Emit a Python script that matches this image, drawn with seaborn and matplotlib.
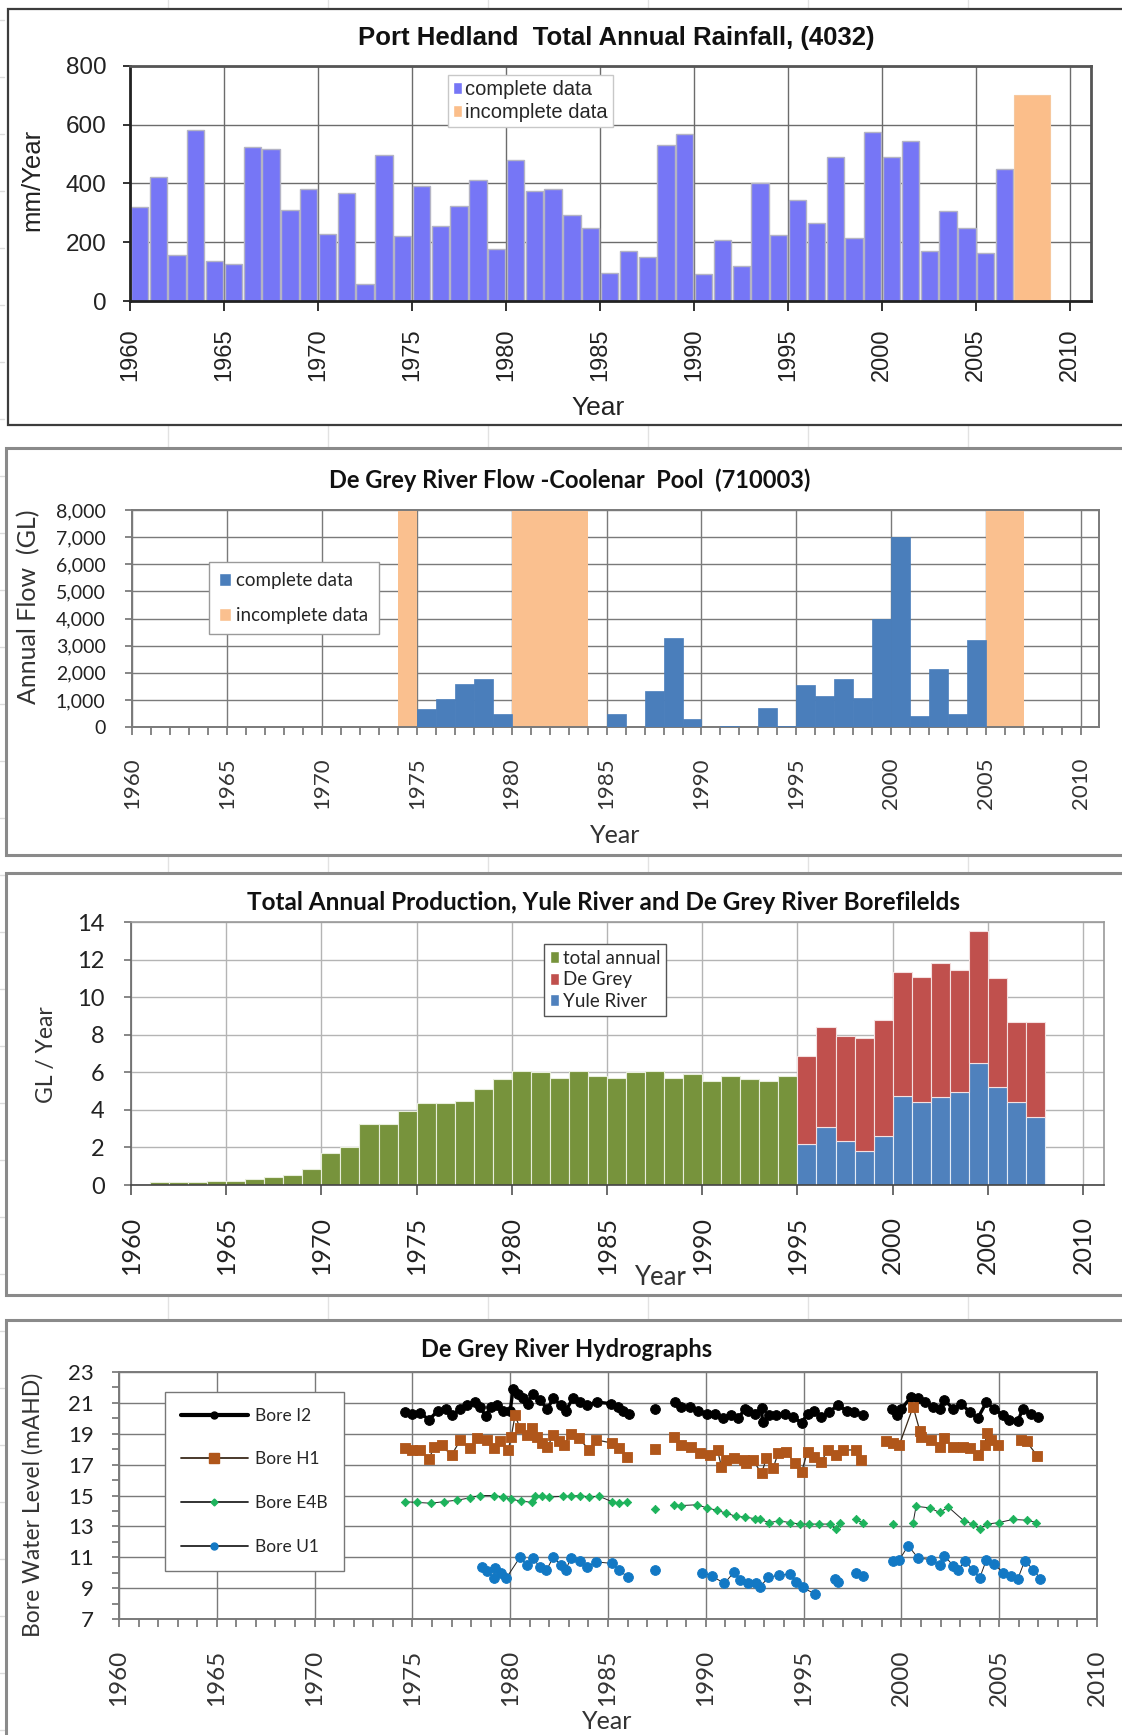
import matplotlib
matplotlib.use("Agg")
import numpy as np
import pandas as pd
import matplotlib.pyplot as plt
import seaborn as sns
from matplotlib.patches import Rectangle, Patch
from matplotlib.lines import Line2D

# ---------- DATA ----------
# Port Hedland rainfall (mm/year), complete years 1960-2006
rain_years = list(range(1960, 2007))
rain_mm = [321, 423, 156, 581, 136, 125, 525, 519, 309, 381,
           227, 366, 58, 496, 221, 392, 255, 323, 411, 178,
           479, 374, 381, 292, 249, 97, 169, 150, 532, 568,
           91, 209, 118, 403, 226, 344, 266, 489, 215, 574,
           489, 546, 169, 306, 249, 163, 449]
rain_inc_year = [2007]
rain_inc_mm = [700]
rain_inc_span = [2]

# De Grey River flow (GL), complete years
flow_years = [1975, 1976, 1977, 1978, 1979, 1985, 1987, 1988, 1989, 1991, 1993,
              1994, 1995, 1996, 1997, 1998, 1999, 2000, 2001, 2002, 2003, 2004]
flow_gl = [675, 1030, 1580, 1770, 490, 470, 1330, 3290, 300, 40, 715,
           30, 1565, 1145, 1760, 1085, 4000, 6990, 405, 2120, 470, 3225]
flow_inc_start = [1974, 1980, 2005]
flow_inc_span = [1, 4, 2]
flow_inc_top = [8000, 8000, 8000]

# Production (GL/year)
total_years = list(range(1961, 1995))
total_gl = [0.15, 0.15, 0.15, 0.2, 0.21, 0.34, 0.44, 0.53, 0.85, 1.72,
            2.0, 3.23, 3.23, 3.96, 4.39, 4.39, 4.48, 5.1, 5.63, 6.07,
            5.99, 5.72, 6.07, 5.81, 5.72, 5.99, 6.08, 5.72, 5.9, 5.55,
            5.81, 5.65, 5.55, 5.81]
split_years = list(range(1995, 2008))
yule_gl = [2.16, 3.09, 2.34, 1.79, 2.61, 4.76, 4.40, 4.67, 4.97, 6.49, 5.24, 4.40, 3.60]
degrey_gl = [4.73, 5.32, 5.58, 6.05, 6.16, 6.60, 6.69, 7.14, 6.48, 7.03, 5.78, 4.28, 5.08]

# Bore water levels (year, mAHD)
bore_i2 = [(1974.6, 20.42), (1975.0, 20.3), (1975.4, 20.35), (1975.85, 19.9), (1976.3, 20.5),
           (1976.7, 20.6), (1977.0, 20.2), (1977.45, 20.6), (1977.8, 20.85), (1978.2, 21.05),
           (1978.45, 20.75), (1978.75, 20.15), (1979.0, 20.75), (1979.3, 20.85), (1979.65, 20.5),
           (1980.0, 20.5), (1980.15, 21.9), (1980.4, 21.6), (1980.65, 21.3), (1980.9, 20.95),
           (1981.15, 21.6), (1981.5, 21.2), (1981.9, 20.6), (1982.2, 21.3), (1982.6, 20.85),
           (1982.85, 20.5), (1983.2, 21.3), (1983.55, 21.05), (1983.95, 20.85), (1984.45, 21.05),
           (1985.15, 20.95), (1985.5, 20.75), (1985.75, 20.5), (1986.05, 20.3), (1987.4, 20.6),
           (1988.4, 21.05), (1988.75, 20.75), (1989.2, 20.75), (1989.6, 20.5), (1990.05, 20.3),
           (1990.45, 20.3), (1990.9, 20.0), (1991.3, 20.2), (1991.65, 20.0), (1992.0, 20.6),
           (1992.15, 20.5), (1992.5, 20.3), (1992.85, 20.65), (1992.9, 19.75), (1993.25, 20.2),
           (1993.6, 20.2), (1994.05, 20.3), (1994.45, 20.1), (1994.9, 19.7), (1995.2, 20.3),
           (1995.55, 20.5), (1995.9, 20.1), (1996.3, 20.4), (1996.75, 20.85), (1997.2, 20.5),
           (1997.6, 20.4), (1998.05, 20.2), (1999.5, 20.6), (1999.75, 20.2), (2000.0, 20.6),
           (2000.5, 21.4), (2000.85, 21.3), (2001.2, 21.05), (2001.6, 20.75), (2001.95, 20.6),
           (2002.2, 21.2), (2002.65, 20.6), (2003.05, 20.95), (2003.5, 20.4), (2003.9, 20.0),
           (2004.35, 21.05), (2004.75, 20.6), (2005.2, 20.2), (2005.5, 19.9), (2005.95, 19.8),
           (2006.2, 20.6), (2006.65, 20.3), (2007.0, 20.1)]
bore_h1 = [(1974.6, 18.05), (1975.0, 17.95), (1975.4, 17.95), (1975.85, 17.35), (1976.1, 18.15),
           (1976.5, 18.25), (1977.0, 17.6), (1977.45, 18.6), (1977.95, 18.05), (1978.3, 18.7),
           (1978.8, 18.6), (1979.15, 18.05), (1979.5, 18.5), (1979.9, 17.95), (1980.05, 18.8),
           (1980.25, 20.2), (1980.5, 19.35), (1980.85, 18.9), (1981.1, 19.35), (1981.35, 18.8),
           (1981.65, 18.4), (1981.9, 18.15), (1982.2, 18.9), (1982.5, 18.5), (1982.75, 18.25),
           (1983.1, 19.0), (1983.5, 18.7), (1984.05, 17.95), (1984.4, 18.6), (1985.2, 18.4),
           (1985.55, 18.05), (1985.95, 17.5), (1987.4, 18.0), (1988.35, 18.8), (1988.75, 18.25),
           (1989.25, 18.15), (1989.7, 17.75), (1990.2, 17.6), (1990.6, 17.95), (1990.8, 16.85),
           (1991.05, 17.3), (1991.45, 17.4), (1991.95, 17.3), (1992.05, 17.1), (1992.4, 17.3),
           (1992.85, 16.45), (1993.1, 17.4), (1993.45, 16.8), (1993.7, 17.75), (1994.1, 17.85),
           (1994.55, 17.1), (1994.9, 16.55), (1995.2, 17.85), (1995.55, 17.5), (1995.9, 17.2),
           (1996.25, 17.95), (1996.65, 17.6), (1997.0, 17.95), (1997.7, 17.95), (1997.95, 17.3),
           (1999.2, 18.5), (1999.55, 18.4), (1999.9, 18.3), (2000.6, 20.75), (2000.95, 19.15),
           (2001.0, 18.8), (2001.5, 18.6), (2001.95, 18.15), (2002.2, 18.7), (2002.65, 18.15),
           (2003.15, 18.15), (2003.5, 18.05), (2003.9, 17.65), (2004.25, 18.3), (2004.4, 19.05),
           (2004.6, 18.6), (2004.95, 18.3), (2006.1, 18.6), (2006.4, 18.5), (2006.95, 17.55)]
bore_e4b = [(1974.6, 14.6), (1975.25, 14.55), (1975.95, 14.5), (1976.6, 14.6), (1977.3, 14.7),
            (1977.95, 14.85), (1978.45, 15.0), (1979.15, 15.0), (1979.65, 14.9), (1980.05, 14.75),
            (1980.55, 14.65), (1981.1, 14.55), (1981.25, 15.0), (1981.65, 14.95), (1982.0, 14.9),
            (1982.7, 14.95), (1983.1, 14.95), (1983.55, 15.0), (1984.05, 14.9), (1984.55, 14.95),
            (1985.2, 14.6), (1985.55, 14.5), (1985.95, 14.55), (1987.4, 14.15), (1988.35, 14.4),
            (1988.75, 14.35), (1989.55, 14.4), (1990.05, 14.2), (1990.55, 14.05), (1991.05, 13.85),
            (1991.55, 13.65), (1992.0, 13.6), (1992.5, 13.5), (1992.75, 13.45), (1993.25, 13.25),
            (1993.75, 13.35), (1994.3, 13.25), (1994.8, 13.15), (1995.3, 13.15), (1995.8, 13.15),
            (1996.35, 13.15), (1996.65, 12.8), (1996.85, 13.2), (1997.7, 13.45), (1998.05, 13.2),
            (1999.55, 13.15), (2000.6, 13.25), (2000.75, 14.3), (2001.45, 14.2), (2001.95, 13.9),
            (2002.4, 14.25), (2003.2, 13.35), (2003.65, 13.15), (2004.0, 12.85), (2004.4, 13.15),
            (2005.0, 13.25), (2005.7, 13.45), (2006.4, 13.4), (2006.9, 13.25)]
bore_u1 = [(1978.55, 10.4), (1978.8, 10.1), (1979.15, 9.65), (1979.2, 10.3), (1979.55, 10.0),
           (1979.8, 9.65), (1980.5, 11.0), (1980.85, 10.5), (1981.15, 10.95), (1981.5, 10.4),
           (1981.85, 10.15), (1982.2, 11.0), (1982.6, 10.5), (1982.85, 10.2), (1983.1, 10.95),
           (1983.55, 10.75), (1983.95, 10.4), (1984.4, 10.7), (1985.2, 10.6), (1985.55, 10.15),
           (1986.0, 9.75), (1987.4, 10.15), (1989.8, 10.0), (1990.3, 9.8), (1990.95, 9.3),
           (1991.45, 10.05), (1991.75, 9.5), (1992.15, 9.35), (1992.55, 9.3), (1992.75, 9.05),
           (1993.2, 9.7), (1993.75, 9.85), (1994.3, 9.9), (1994.6, 9.4), (1994.95, 9.05),
           (1995.6, 8.6), (1996.6, 9.6), (1996.75, 9.4), (1997.7, 10.0), (1998.05, 9.8),
           (1999.55, 10.75), (1999.9, 10.85), (2000.35, 11.75), (2000.85, 10.95), (2001.5, 10.85),
           (2001.95, 10.5), (2002.2, 11.1), (2002.65, 10.45), (2002.9, 10.2), (2003.25, 10.75),
           (2003.65, 10.2), (2004.0, 9.65), (2004.35, 10.85), (2004.75, 10.55), (2005.2, 10.0),
           (2005.6, 9.8), (2005.95, 9.6), (2006.3, 10.75), (2006.75, 10.2), (2007.1, 9.6)]

# ---------- SETUP ----------
sns.set_theme(style="white")
ARIAL = ["Liberation Sans", "DejaVu Sans"]
CALI = ["Lato", "DejaVu Sans"]
plt.rcParams["font.family"] = ARIAL

W, H = 1122, 1735
fig = plt.figure(figsize=(W / 100, H / 100), dpi=100)
fig.patch.set_facecolor("white")


def rect(l, t, r, b):
    return [l / W, 1 - b / H, (r - l) / W, (b - t) / H]


def frame(l, t, r, b, color, lw):
    fig.add_artist(Rectangle((l / W, 1 - b / H), (r - l) / W, (b - t) / H,
                             transform=fig.transFigure, facecolor="white",
                             edgecolor=color, linewidth=lw, zorder=-1))


def ftext(x, y, s, **kw):
    fig.text(x / W, 1 - y / H, s, ha="center", va="center", **kw)


def style_axes(ax, grid_col, spine_col, spine_w):
    ax.set_facecolor("white")
    ax.grid(True, color=grid_col, linewidth=1.0)
    ax.set_axisbelow(True)
    for sp in ax.spines.values():
        sp.set_visible(True)
        sp.set_color(spine_col)
        sp.set_linewidth(spine_w)
    ax.set_xlabel("")
    ax.set_ylabel("")


# faint spreadsheet cell lines behind the charts
for gx in range(168, W, 160):
    fig.add_artist(Line2D([gx / W, gx / W], [0, 1], transform=fig.transFigure,
                          color="#e2e2e2", lw=1, zorder=-2))
for gy in range(20, H, 57):
    fig.add_artist(Line2D([0, 4 / W], [1 - gy / H, 1 - gy / H], transform=fig.transFigure,
                          color="#dcdcdc", lw=1, zorder=-2))

# ---------- PANEL 1: RAINFALL ----------
frame(8, 9, 1130, 425, "#3c3c3c", 1.6)
ax1 = fig.add_axes(rect(130, 66, 1091, 301))
rain_df = pd.DataFrame({"mid": np.array(rain_years) + 0.5, "mm": rain_mm})
sns.barplot(data=rain_df, x="mid", y="mm", native_scale=True, width=0.92,
            color="#7676F6", saturation=1, edgecolor="#B4B4C4", linewidth=1.0,
            errorbar=None, ax=ax1)
ax1.bar(rain_inc_year, rain_inc_mm, width=np.array(rain_inc_span) - 0.08, align="edge",
        color="#FBBE8A", edgecolor="#F6C89E", linewidth=0.8)
style_axes(ax1, "#6c6c6c", "#555555", 2.0)
ax1.spines["bottom"].set_color("#222222")
ax1.spines["left"].set_color("#222222")
ax1.set_xlim(1960, 2011.1)
ax1.set_ylim(0, 800)
ax1.set_xticks(range(1960, 2011, 5), [str(y) for y in range(1960, 2011, 5)],
               rotation=90, fontsize=17, fontfamily=ARIAL, color="#222222")
ax1.set_yticks(range(0, 801, 200), [str(v) for v in range(0, 801, 200)],
               fontsize=17.5, fontfamily=ARIAL, color="#222222")
ax1.tick_params(axis="x", direction="out", length=7, width=1.3, color="#222222", pad=13, bottom=True)
ax1.tick_params(axis="y", direction="out", length=5, width=1.3, color="#222222", pad=12, left=True)
ftext(557 * 1.1065, 38, "Port Hedland  Total Annual Rainfall, (4032)", fontsize=18.5,
      fontweight="bold", fontfamily=ARIAL, color="#111111")
ftext(32, 180, "mm/Year", rotation=90, fontsize=18.5, fontfamily=ARIAL, color="#222222")
ftext(598, 408, "Year", fontsize=19, fontfamily=ARIAL, color="#222222")
h1 = [Patch(facecolor="#7676F6"), Patch(facecolor="#FBBE8A")]
leg1 = ax1.legend(h1, ["complete data", "incomplete data"], loc="upper left",
                  bbox_to_anchor=(448 / W, 1 - 75 / H), bbox_transform=fig.transFigure,
                  frameon=True, fancybox=False, edgecolor="#c8c8c8", framealpha=1,
                  prop={"family": ARIAL, "size": 14.5}, handlelength=0.45, handleheight=0.55,
                  handletextpad=0.15, borderpad=0.25, labelspacing=0.2, borderaxespad=0)
leg1.get_frame().set_linewidth(1.0)

# ---------- PANEL 2: RIVER FLOW ----------
frame(6, 448, 1130, 855, "#8a8a8a", 2.2)
ax2 = fig.add_axes(rect(132, 510, 1099, 727))
ax2.bar(flow_inc_start, flow_inc_top, width=flow_inc_span, align="edge",
        color="#FAC08F", linewidth=0, zorder=2)
flow_df = pd.DataFrame({"mid": np.array(flow_years) + 0.5, "gl": flow_gl})
sns.barplot(data=flow_df, x="mid", y="gl", native_scale=True, width=1.0,
            color="#4A7EBB", saturation=1, edgecolor="#4A7EBB", linewidth=0.5,
            errorbar=None, ax=ax2, zorder=3)
style_axes(ax2, "#7a7a7a", "#7a7a7a", 1.4)
ax2.set_xlim(1960, 2010.94)
ax2.set_ylim(0, 8000)
ax2.set_xticks(range(1960, 2011, 5), [str(y) for y in range(1960, 2011, 5)],
               rotation=90, fontsize=16, fontfamily=CALI, color="#333333")
ax2.set_xticks(range(1960, 2011), minor=True)
ax2.set_yticks(range(0, 8001, 1000), [f"{v:,}" for v in range(0, 8001, 1000)],
               fontsize=14, fontfamily=CALI, color="#222222")
ax2.tick_params(axis="x", which="both", direction="out", length=6, width=1.1, color="#666666",
                pad=16, bottom=True)
ax2.tick_params(axis="y", direction="out", length=5, width=1.1, color="#666666", pad=14, left=True)
ftext(515 * 1.1065, 480, "De Grey River Flow -Coolenar  Pool  (710003)", fontsize=17,
      fontweight="bold", fontfamily=CALI, color="#111111")
ftext(29, 607, "Annual Flow  (GL)", rotation=90, fontsize=18, fontfamily=CALI, color="#333333")
ftext(615, 835, "Year", fontsize=18, fontfamily=CALI, color="#333333")
h2 = [Patch(facecolor="#4A7EBB"), Patch(facecolor="#FAC08F")]
leg2 = ax2.legend(h2, ["complete data", "incomplete data"], loc="upper left",
                  bbox_to_anchor=(209 / W, 1 - 562 / H), bbox_transform=fig.transFigure,
                  frameon=True, fancybox=False, edgecolor="#9a9a9a", framealpha=1,
                  prop={"family": CALI, "size": 13.5}, handlelength=0.6, handleheight=0.7,
                  handletextpad=0.3, borderpad=0.55, labelspacing=0.95, borderaxespad=0)
leg2.get_frame().set_linewidth(1.0)

# ---------- PANEL 3: PRODUCTION ----------
frame(6, 873, 1130, 1295, "#8a8a8a", 2.2)
ax3 = fig.add_axes(rect(131, 922, 1104, 1185))
ax3.bar(total_years, total_gl, width=1.0, align="edge", color="#77933C",
        edgecolor="#E8EEDC", linewidth=0.8, zorder=2)
ax3.bar(split_years, yule_gl, width=1.0, align="edge", color="#4F81BD",
        edgecolor="#E4ECF6", linewidth=0.8, zorder=2)
ax3.bar(split_years, degrey_gl, bottom=yule_gl, width=1.0, align="edge", color="#C0504D",
        edgecolor="#F4E0E0", linewidth=0.8, zorder=2)
style_axes(ax3, "#b4b4b4", "#9a9a9a", 1.2)
ax3.spines["bottom"].set_color("#444444")
ax3.spines["left"].set_color("#666666")
ax3.set_xlim(1960, 2011.1)
ax3.set_ylim(0, 14)
ax3.set_xticks(range(1960, 2011, 5), [str(y) for y in range(1960, 2011, 5)],
               rotation=90, fontsize=18, fontfamily=CALI, color="#222222")
ax3.set_yticks(range(0, 15, 2), [str(v) for v in range(0, 15, 2)],
               fontsize=17, fontfamily=CALI, color="#222222")
ax3.tick_params(axis="x", direction="out", length=7, width=1.1, color="#444444", pad=15, bottom=True)
ax3.tick_params(axis="y", direction="out", length=5, width=1.1, color="#666666", pad=14, left=True)
ftext(545 * 1.1065, 902, "Total Annual Production, Yule River and De Grey River Borefilelds",
      fontsize=17.5, fontweight="bold", fontfamily=CALI, color="#111111")
ftext(46, 1055, "GL / Year", rotation=90, fontsize=16.5, fontfamily=CALI, color="#333333")
ftext(660, 1277, "Year", fontsize=18.5, fontfamily=CALI, color="#333333")
h3 = [Patch(facecolor="#77933C"), Patch(facecolor="#C0504D"), Patch(facecolor="#4F81BD")]
leg3 = ax3.legend(h3, ["total annual", "De Grey", "Yule River"], loc="upper left",
                  bbox_to_anchor=(544 / W, 1 - 944 / H), bbox_transform=fig.transFigure,
                  frameon=True, fancybox=False, edgecolor="#555555", framealpha=1,
                  prop={"family": CALI, "size": 13.5}, handlelength=0.5, handleheight=0.6,
                  handletextpad=0.2, borderpad=0.3, labelspacing=0.25, borderaxespad=0)
leg3.get_frame().set_linewidth(1.0)

# ---------- PANEL 4: HYDROGRAPHS ----------
frame(6, 1320, 1130, 1745, "#8a8a8a", 2.2)
ax4 = fig.add_axes(rect(119, 1372, 1097, 1619))
bores = [
    ("Bore I2", bore_i2, "#000000", "o", 50, "#000000", 2.4),
    ("Bore H1", bore_h1, "#B0561A", "s", 52, "#3a2a1a", 0.9),
    ("Bore E4B", bore_e4b, "#1DB35C", "D", 18, "#222222", 0.7),
    ("Bore U1", bore_u1, "#1278C4", "o", 50, "#222222", 0.7),
]
for name, pts, col, mk, sz, lcol, lw in bores:
    df = pd.DataFrame(pts, columns=["t", "v"])
    df["seg"] = (df["t"].diff() > 0.8).cumsum()
    sns.lineplot(data=df, x="t", y="v", units="seg", estimator=None, color=lcol,
                 linewidth=lw, ax=ax4, legend=False, zorder=2)
    sns.scatterplot(data=df, x="t", y="v", marker=mk, s=sz, color=col, edgecolor=col,
                    linewidth=0.6, ax=ax4, legend=False, zorder=3)
style_axes(ax4, "#7a7a7a", "#7a7a7a", 1.4)
ax4.set_xlim(1960, 2010)
ax4.set_ylim(7, 23)
ax4.set_xticks(range(1960, 2011, 5), [str(y) for y in range(1960, 2011, 5)],
               rotation=90, fontsize=17.5, fontfamily=CALI, color="#333333")
ax4.set_xticks(range(1960, 2011), minor=True)
ax4.set_yticks(range(7, 24, 2), [str(v) for v in range(7, 24, 2)],
               fontsize=16, fontfamily=CALI, color="#222222")
ax4.set_yticks(range(7, 24), minor=True)
ax4.tick_params(axis="x", which="both", direction="out", length=6, width=1.1, color="#666666",
                pad=16, bottom=True)
ax4.tick_params(axis="y", which="both", direction="out", length=5, width=1.1, color="#666666",
                pad=13, left=True)
ftext(512 * 1.1065, 1349, "De Grey River Hydrographs", fontsize=17, fontweight="bold",
      fontfamily=CALI, color="#111111")
ftext(33, 1505, "Bore Water Level (mAHD)", rotation=90, fontsize=16.5, fontfamily=CALI,
      color="#333333")
ftext(607, 1721, "Year", fontsize=18, fontfamily=CALI, color="#333333")
h4 = [Line2D([], [], color="#000000", lw=3, marker="o", ms=5, mfc="#000000", mec="#000000"),
      Line2D([], [], color="#3a2a1a", lw=1.3, marker="s", ms=7, mfc="#B0561A", mec="#B0561A"),
      Line2D([], [], color="#222222", lw=1.3, marker="D", ms=3.5, mfc="#1DB35C", mec="#1DB35C"),
      Line2D([], [], color="#222222", lw=1.3, marker="o", ms=5, mfc="#1278C4", mec="#1278C4")]
leg4 = ax4.legend(h4, [b[0] for b in bores], loc="upper left",
                  bbox_to_anchor=(165 / W, 1 - 1392 / H), bbox_transform=fig.transFigure,
                  frameon=True, fancybox=False, edgecolor="#777777", framealpha=1,
                  prop={"family": CALI, "size": 12.5}, handlelength=3.9, handletextpad=0.4,
                  borderpad=0.9, labelspacing=1.6, borderaxespad=0)
leg4.get_frame().set_linewidth(1.0)

fig.savefig("out.png", dpi=100, facecolor="white")
